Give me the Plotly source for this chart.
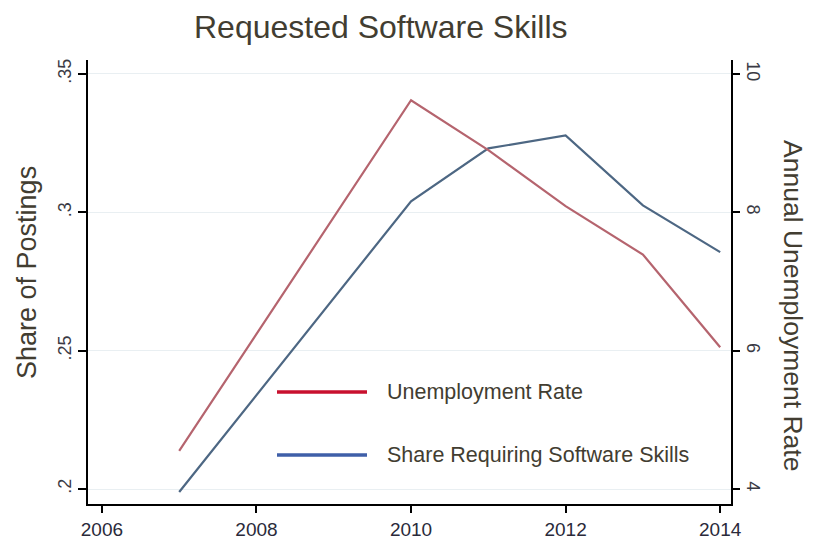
import plotly.graph_objects as go

years = [2007, 2010, 2011, 2012, 2013, 2014]
share_software = [0.1989, 0.304, 0.3231, 0.3278, 0.3025, 0.2856]
unemployment = [4.55, 9.62, 8.9, 8.09, 7.39, 6.05]

x_ticks = [2006, 2008, 2010, 2012, 2014]
left_ticks = [0.2, 0.25, 0.3, 0.35]
left_labels = [".2", ".25", ".3", ".35"]
right_ticks = [4, 6, 8, 10]
right_labels = ["4", "6", "8", "10"]

legend_names = ["Unemployment Rate", "Share Requiring Software Skills"]

font_main = "Liberation Sans, Arial, sans-serif"
text_col = "#423d31"

L, R, T, B = 88, 731, 60, 504
W, H = 818, 540
pw, ph = R - L, B - T

fig = go.Figure()
fig.add_trace(go.Scatter(x=years, y=share_software, mode="lines",
                         line=dict(color="#4d6783", width=2.2), yaxis="y", showlegend=False))
fig.add_trace(go.Scatter(x=years, y=unemployment, mode="lines",
                         line=dict(color="#b5646e", width=2.2), yaxis="y2", showlegend=False))

fig.update_layout(
    width=W, height=H,
    margin=dict(l=L, r=W - R, t=T, b=H - B, autoexpand=False),
    paper_bgcolor="white", plot_bgcolor="white",
    font=dict(family=font_main, color="#222"),
    xaxis=dict(range=[2005.82, 2014.14], tickvals=x_ticks, ticktext=[str(v) for v in x_ticks],
               automargin=False,
               showgrid=False, zeroline=False, showline=True, linecolor="black", linewidth=1.6,
               ticks="outside", ticklen=7, tickcolor="black", tickwidth=1.6,
               tickfont=dict(size=19, color="#2a2a3a")),
    yaxis=dict(range=[0.19458, 0.35505], tickvals=left_ticks, ticktext=left_labels,
               automargin=False,
               tickangle=-90, showgrid=True, gridcolor="#e9eff2", gridwidth=1, zeroline=False,
               showline=True, linecolor="black", linewidth=1.6,
               ticks="outside", ticklen=8, tickcolor="black", tickwidth=1.6,
               tickfont=dict(size=18, color="#3a3a44")),
    yaxis2=dict(range=[3.783, 10.202], tickvals=right_ticks, ticktext=right_labels,
                automargin=False,
                overlaying="y", side="right", tickangle=90, showgrid=False, zeroline=False,
                showline=True, linecolor="black", linewidth=1.6,
                ticks="outside", ticklen=7, tickcolor="black", tickwidth=1.6,
                tickfont=dict(size=18, color="#3a3a44")),
)

def px_x(x):
    return (x - L) / pw

def px_y(y):
    return (B - y) / ph

# title
fig.add_annotation(text="Requested Software Skills", xref="paper", yref="paper",
                   x=px_x(381), y=px_y(27), showarrow=False, xanchor="center", yanchor="middle",
                   font=dict(size=32, color=text_col))
# axis titles
fig.add_annotation(text="Share of Postings", xref="paper", yref="paper",
                   x=px_x(27), y=px_y(273), textangle=-90, showarrow=False,
                   xanchor="center", yanchor="middle", font=dict(size=27, color=text_col))
fig.add_annotation(text="Annual Unemployment Rate", xref="paper", yref="paper",
                   x=px_x(793), y=px_y(305), textangle=90, showarrow=False,
                   xanchor="center", yanchor="middle", font=dict(size=26.5, color=text_col))

# legend drawn inside the plot
leg_colors = ["#c8102e", "#3f5fa8"]
leg_y = [392, 455]
for name, col, py in zip(legend_names, leg_colors, leg_y):
    fig.add_shape(type="line", xref="paper", yref="paper", x0=px_x(277), x1=px_x(367),
                  y0=px_y(py), y1=px_y(py), line=dict(color=col, width=3.5))
    fig.add_annotation(text=name, xref="paper", yref="paper", x=px_x(385), y=px_y(py),
                       xanchor="left", yanchor="middle", showarrow=False,
                       font=dict(size=21.5, color=text_col))

fig.write_html("out.html", config={"displayModeBar": False},
               post_script="document.body.style.margin='0';document.body.style.padding='0';")
